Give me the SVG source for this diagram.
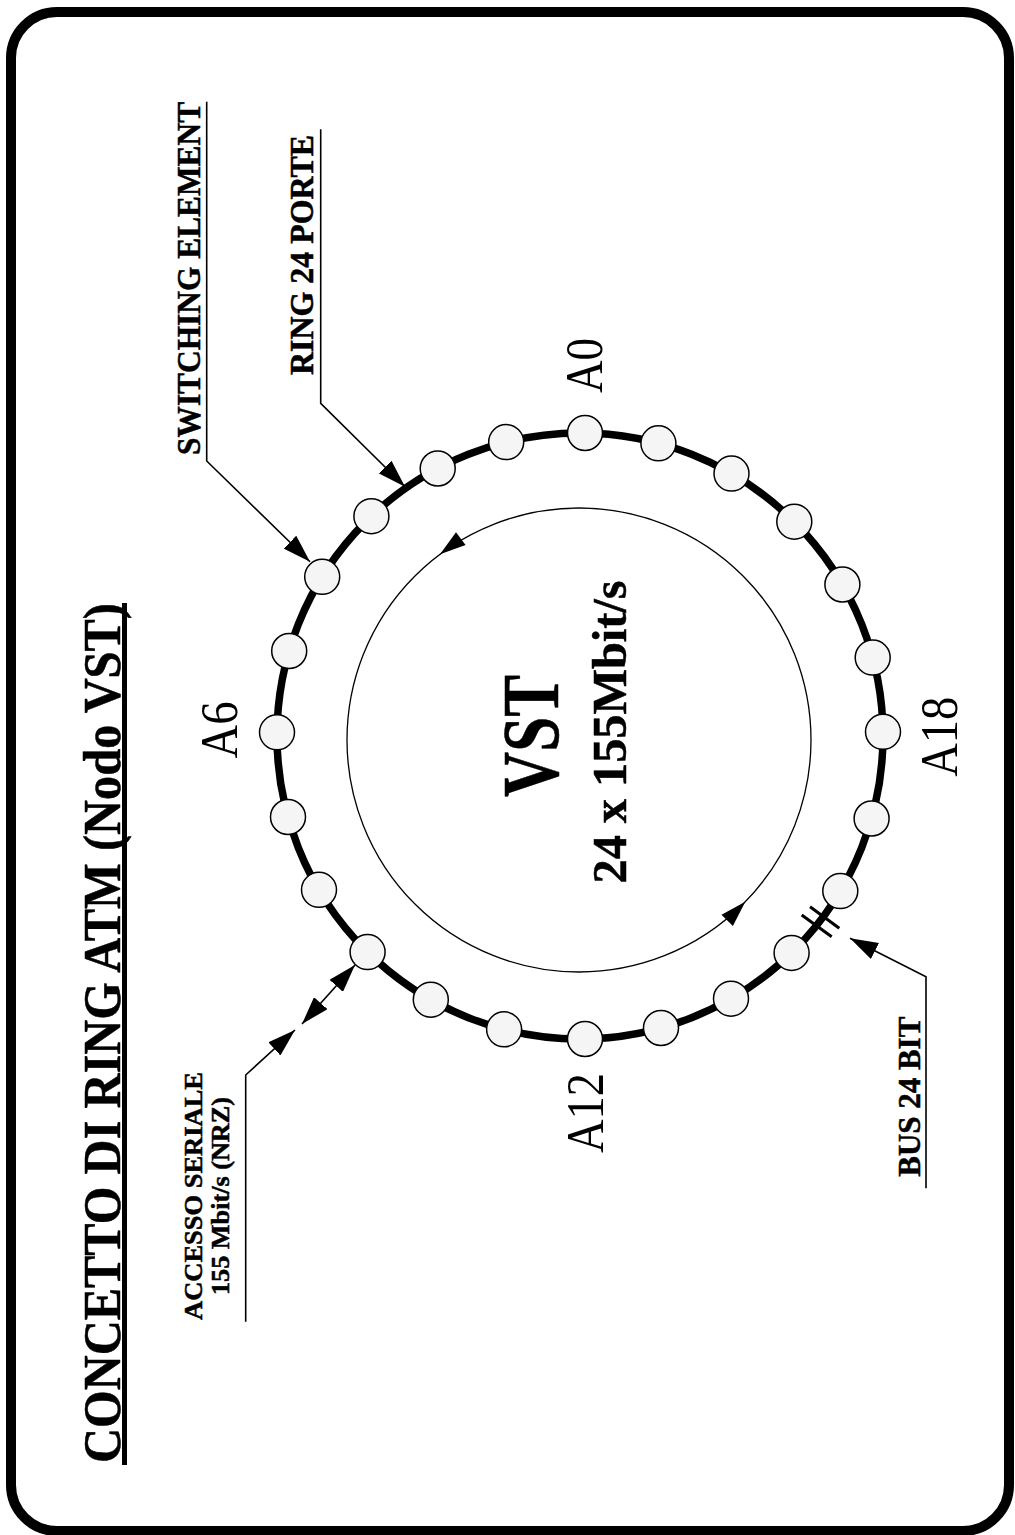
<svg xmlns="http://www.w3.org/2000/svg" width="1015" height="1535" viewBox="0 0 1015 1535">
<style>
.lbl{font-family:"Liberation Serif","Times New Roman",serif;font-weight:bold;fill:#000;stroke:#000;stroke-width:0.5;text-anchor:middle}
.port{font-family:"Liberation Serif","Times New Roman",serif;fill:#000;text-anchor:middle}
.node{fill:#f5f5f5;stroke:#000;stroke-width:1.5}
.lead{fill:none;stroke:#000;stroke-width:1.6}
</style>
<defs>
<marker id="arr" viewBox="0 0 28 18" refX="28" refY="9" markerWidth="28" markerHeight="18" markerUnits="userSpaceOnUse" orient="auto-start-reverse">
<path d="M0,0 L28,9 L0,18 Z" fill="#000"/>
</marker>
</defs>
<rect x="11" y="12" width="998" height="1519" rx="46" ry="46" fill="#fff" stroke="#000" stroke-width="10"/>

<g id="title">
<text class="lbl" font-size="52" textLength="860" lengthAdjust="spacingAndGlyphs" stroke-width="0.9" transform="translate(120,1033) rotate(-90)">CONCETTO DI RING ATM (Nodo VST)</text>
<line x1="124.5" y1="603" x2="124.5" y2="1465" stroke="#000" stroke-width="5"/>
</g>

<g id="ring">
<circle cx="580" cy="736" r="303" fill="none" stroke="#000" stroke-width="7.5"/>
</g>

<g id="inner-loop">
<circle cx="579" cy="740" r="232" fill="none" stroke="#000" stroke-width="1.3"/>
<polygon points="440,554.2 465.6,545 456,532.2" fill="#000"/>
<polygon points="745.3,901.8 732.9,926 721.5,914.8" fill="#000"/>
</g>

<g id="vst-label">
<text class="lbl" font-size="80" textLength="122" lengthAdjust="spacingAndGlyphs" transform="translate(558,736) rotate(-90)">VST</text>
<text class="lbl" font-size="48" textLength="303" lengthAdjust="spacingAndGlyphs" transform="translate(626,732) rotate(-90)">24 x 155Mbit/s</text>
</g>

<g id="connectors">
<path class="lead" d="M206.7,101.7 V461 L310,561.7" marker-end="url(#arr)"/>
<path class="lead" d="M320.7,129.3 V403.3 L405,486.7" marker-end="url(#arr)"/>
<path class="lead" d="M926,1188.3 V976.7 L850,938.3" marker-end="url(#arr)"/>
<path class="lead" d="M245.7,1321.7 V1075 L295,1030" marker-end="url(#arr)"/>
<path class="lead" d="M302,1024 L355,965" marker-start="url(#arr)" marker-end="url(#arr)"/>
<line x1="801.7" y1="915" x2="831.7" y2="936.7" stroke="#000" stroke-width="3"/>
<line x1="810" y1="906.7" x2="839.3" y2="928.3" stroke="#000" stroke-width="3"/>
</g>

<g id="label-switching"><text class="lbl" font-size="34" textLength="353" lengthAdjust="spacingAndGlyphs" transform="translate(200,278.4) rotate(-90)">SWITCHING ELEMENT</text></g>
<g id="label-ring"><text class="lbl" font-size="34" textLength="240" lengthAdjust="spacingAndGlyphs" transform="translate(313.3,255) rotate(-90)">RING 24 PORTE</text></g>
<g id="label-bus"><text class="lbl" font-size="32" textLength="160" lengthAdjust="spacingAndGlyphs" transform="translate(920,1096.7) rotate(-90)">BUS 24 BIT</text></g>
<g id="label-accesso">
<text class="lbl" font-size="25" textLength="248" lengthAdjust="spacingAndGlyphs" transform="translate(201.5,1196) rotate(-90)">ACCESSO SERIALE</text>
<text class="lbl" font-size="25" textLength="198" lengthAdjust="spacingAndGlyphs" transform="translate(229,1196) rotate(-90)">155 Mbit/s (NRZ)</text>
</g>

<g id="port-labels">
<text class="port" font-size="52" textLength="55" lengthAdjust="spacingAndGlyphs" transform="translate(601.7,365.5) rotate(-90)">A0</text>
<text class="port" font-size="52" textLength="57" lengthAdjust="spacingAndGlyphs" transform="translate(236.7,730) rotate(-90)">A6</text>
<text class="port" font-size="52" textLength="80" lengthAdjust="spacingAndGlyphs" transform="translate(603,1113) rotate(-90)">A12</text>
<text class="port" font-size="52" textLength="80" lengthAdjust="spacingAndGlyphs" transform="translate(956.7,736.7) rotate(-90)">A18</text>
</g>

<g id="node-A0"><circle class="node" cx="585" cy="433" r="17.5"/></g>
<g id="node-A1"><circle class="node" cx="506.2" cy="442.1" r="17.5"/></g>
<g id="node-A2"><circle class="node" cx="437.7" cy="468.5" r="17.5"/></g>
<g id="node-A3"><circle class="node" cx="371.4" cy="516.2" r="17.5"/></g>
<g id="node-A4"><circle class="node" cx="322.2" cy="576.8" r="17.5"/></g>
<g id="node-A5"><circle class="node" cx="289.2" cy="651" r="17.5"/></g>
<g id="node-A6"><circle class="node" cx="277" cy="732.3" r="17.5"/></g>
<g id="node-A7"><circle class="node" cx="288" cy="817" r="17.5"/></g>
<g id="node-A8"><circle class="node" cx="319" cy="889.8" r="17.5"/></g>
<g id="node-A9"><circle class="node" cx="367.6" cy="952.1" r="17.5"/></g>
<g id="node-A10"><circle class="node" cx="430.8" cy="999.7" r="17.5"/></g>
<g id="node-A11"><circle class="node" cx="504.1" cy="1029.3" r="17.5"/></g>
<g id="node-A12"><circle class="node" cx="585" cy="1039" r="17.5"/></g>
<g id="node-A13"><circle class="node" cx="661" cy="1028" r="17.5"/></g>
<g id="node-A14"><circle class="node" cx="731" cy="998.7" r="17.5"/></g>
<g id="node-A15"><circle class="node" cx="791.6" cy="952.9" r="17.5"/></g>
<g id="node-A16"><circle class="node" cx="840.3" cy="891.1" r="17.5"/></g>
<g id="node-A17"><circle class="node" cx="871.6" cy="818.5" r="17.5"/></g>
<g id="node-A18"><circle class="node" cx="883" cy="731.8" r="17.5"/></g>
<g id="node-A19"><circle class="node" cx="872.7" cy="657.6" r="17.5"/></g>
<g id="node-A20"><circle class="node" cx="842.4" cy="584.5" r="17.5"/></g>
<g id="node-A21"><circle class="node" cx="794.3" cy="521.7" r="17.5"/></g>
<g id="node-A22"><circle class="node" cx="731.5" cy="473.6" r="17.5"/></g>
<g id="node-A23"><circle class="node" cx="658.4" cy="443.3" r="17.5"/></g>
</svg>
